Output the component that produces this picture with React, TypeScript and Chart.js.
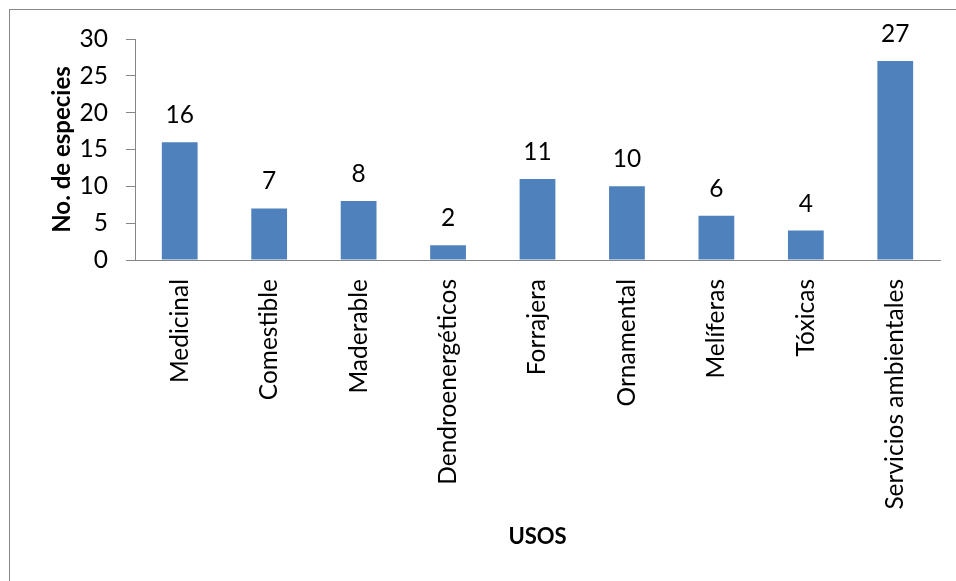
import React, { useEffect, useRef } from "react";
import { Chart, registerables } from "chart.js";

Chart.register(...registerables);

const categories = [
  "Medicinal",
  "Comestible",
  "Maderable",
  "Dendroenergéticos",
  "Forrajera",
  "Ornamental",
  "Melíferas",
  "Tóxicas",
  "Servicios ambientales",
];
const values = [16, 7, 8, 2, 11, 10, 6, 4, 27];
const yTicks = [0, 5, 10, 15, 20, 25, 30];
const xTitle = "USOS";
const yTitle = "No. de especies";

const FONT = "Lato";
const FS = 24.5;

export default function App() {
  const ref = useRef<HTMLCanvasElement | null>(null);
  useEffect(() => {
    if (!ref.current) return;
    const framePlugin = {
      id: "frame",
      beforeDraw(chart: any) {
        const ctx = chart.ctx;
        ctx.save();
        ctx.fillStyle = "#ffffff";
        ctx.fillRect(0, 0, chart.width, chart.height);
        ctx.strokeStyle = "#878787";
        ctx.lineWidth = 1;
        ctx.strokeRect(9.5, 9.5, 1200, 1200);
        ctx.restore();
      },
    };
    const labelPlugin = {
      id: "barLabels",
      afterDatasetsDraw(chart: any) {
        const ctx = chart.ctx;
        const meta = chart.getDatasetMeta(0);
        ctx.save();
        ctx.font = `${FS}px ${FONT}`;
        ctx.fillStyle = "#000000";
        ctx.textAlign = "center";
        ctx.textBaseline = "alphabetic";
        meta.data.forEach((bar: any, i: number) => {
          ctx.fillText(String(values[i]), bar.x, bar.y - 19);
        });
        ctx.restore();
      },
    };
    const chart = new Chart(ref.current, {
      type: "bar",
      data: {
        labels: categories,
        datasets: [
          {
            data: values,
            backgroundColor: "#4F81BD",
            borderWidth: 0,
            barPercentage: 0.4,
            categoryPercentage: 1,
          },
        ],
      },
      options: {
        responsive: false,
        animation: false,
        layout: { padding: { left: 0, top: 39, right: 16, bottom: 0 } },
        plugins: {
          legend: { display: false },
          tooltip: { enabled: false },
        },
        scales: {
          x: {
            grid: { drawOnChartArea: false, drawTicks: false },
            border: { color: "#868686", width: 1 },
            ticks: {
              autoSkip: false,
              minRotation: 90,
              maxRotation: 90,
              padding: 19,
              color: "#000000",
              font: { family: FONT, size: FS },
            },
            title: {
              display: true,
              text: xTitle,
              color: "#000000",
              font: { family: FONT, size: 22, weight: "bold" },
              padding: { top: 0, bottom: 31 },
            },
            afterFit(scale: any) {
              scale.height = 321;
            },
          },
          y: {
            min: 0,
            max: 30,
            afterBuildTicks(scale: any) {
              scale.ticks = yTicks.map((v) => ({ value: v }));
            },
            grid: {
              drawOnChartArea: false,
              drawTicks: true,
              tickLength: 9,
              color: "#868686",
            },
            border: { color: "#868686", width: 1 },
            ticks: {
              padding: 18,
              color: "#000000",
              font: { family: FONT, size: FS },
            },
            title: {
              display: true,
              text: yTitle,
              color: "#000000",
              font: { family: FONT, size: 24, weight: "bold" },
              padding: { top: 48, bottom: 0 },
            },
            afterFit(scale: any) {
              scale.width = 135;
            },
          },
        },
      },
      plugins: [framePlugin, labelPlugin],
    });
    return () => chart.destroy();
  }, []);
  return (
    <div style={{ position: "fixed", left: 0, top: 0, width: 956, height: 581 }}>
      <canvas ref={ref} width={956} height={581} style={{ display: "block" }} />
    </div>
  );
}
